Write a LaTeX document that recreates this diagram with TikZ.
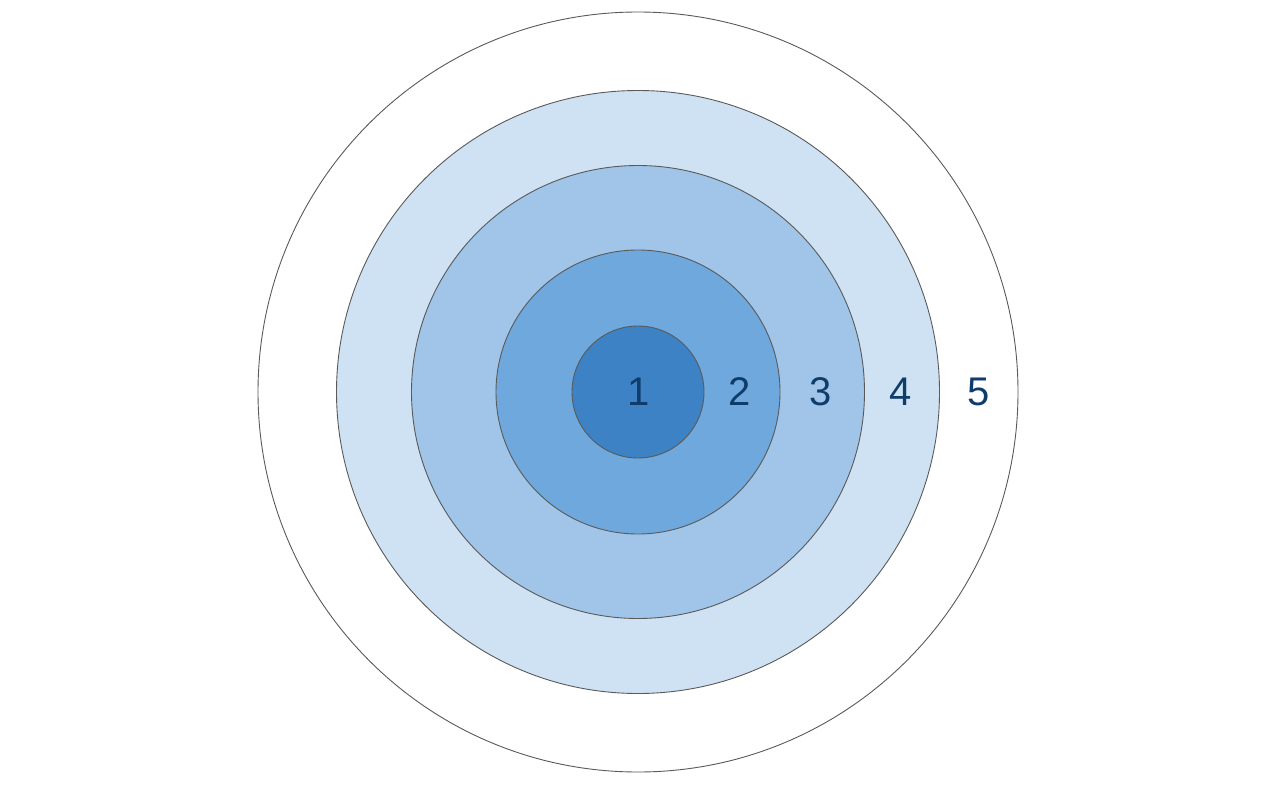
\documentclass[tikz,border=0pt]{standalone}
\usepackage{fontspec}
\setmainfont{Liberation Sans}
\definecolor{ringA}{HTML}{3D82C4}
\definecolor{ringB}{HTML}{6FA8DC}
\definecolor{ringC}{HTML}{A0C5E8}
\definecolor{ringD}{HTML}{CFE2F3}
\definecolor{edgegray}{HTML}{5A5A5A}
\definecolor{labelnavy}{HTML}{0F3D6B}
\begin{document}
\begin{tikzpicture}[x=1pt,y=-1pt,
  ring/.style={circle,draw=edgegray,line width=0.9pt,inner sep=0pt},
  lbl/.style={text=labelnavy,font=\fontsize{40}{40}\selectfont,inner sep=0pt}]
\useasboundingbox (0,0) rectangle (1274,792);
\node[ring,fill=white,minimum size=760pt] (r5) at (638,392) {};
\node[ring,fill=ringD,minimum size=603pt] (r4) at (638,392) {};
\node[ring,fill=ringC,minimum size=453pt] (r3) at (638,392) {};
\node[ring,fill=ringB,minimum size=284pt] (r2) at (638,392) {};
\node[ring,fill=ringA,minimum size=132pt] (r1) at (638,392) {};
\node[lbl] (l1) at (639,392) {1};
\node[lbl] (l2) at (740,392) {2};
\node[lbl] (l3) at (821,392) {3};
\node[lbl] (l4) at (901,392) {4};
\node[lbl] (l5) at (979,392) {5};
\end{tikzpicture}
\end{document}
